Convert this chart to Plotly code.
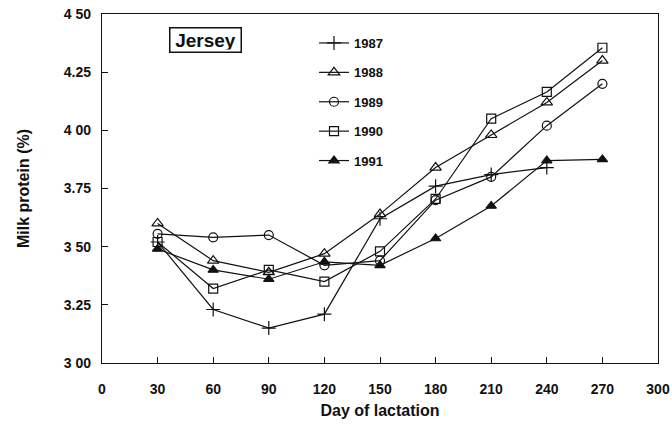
import plotly.graph_objects as go

days = [30, 60, 90, 120, 150, 180, 210, 240, 270]
p1987 = [3.52, 3.23, 3.15, 3.21, 3.62, 3.76, 3.81, 3.84]
p1988 = [3.60, 3.44, 3.39, 3.47, 3.64, 3.84, 3.98, 4.12, 4.30]
p1989 = [3.555, 3.54, 3.55, 3.42, 3.44, 3.70, 3.80, 4.02, 4.20]
p1990 = [3.52, 3.32, 3.40, 3.35, 3.48, 3.705, 4.05, 4.165, 4.355]
p1991 = [3.49, 3.40, 3.36, 3.435, 3.42, 3.535, 3.675, 3.87, 3.875]

x_ticks = [0, 30, 60, 90, 120, 150, 180, 210, 240, 270, 300]
y_ticks = [3.00, 3.25, 3.50, 3.75, 4.00, 4.25, 4.50]
y_ticktext = ["3 00", "3.25", "3 50", "3.75", "4 00", "4.25", "4 50"]

FONT = "Liberation Sans, Arial, sans-serif"
INK = "#111111"

series = [
    ("1987", p1987, "cross-thin-open", 10),
    ("1988", p1988, "triangle-up-open", 10),
    ("1989", p1989, "circle-open", 9),
    ("1990", p1990, "square-open", 9),
    ("1991", p1991, "triangle-up", 9),
]

W, H = 672, 428
L, R, T, B = 102, 14, 14, 65
PW, PH = W - L - R, H - T - B

fig = go.Figure()
for name, vals, sym, size in series:
    fig.add_trace(go.Scatter(
        x=days[:len(vals)], y=vals, name=name, mode="lines+markers",
        line=dict(color=INK, width=1.2),
        marker=dict(symbol=sym, size=size, color=INK, line=dict(color=INK, width=1.2)),
        legendgroup=name,
    ))

fig.add_annotation(
    x=(205 - 102) / PW, y=(363 - 40) / PH, xref="paper", yref="paper",
    xanchor="center", yanchor="middle",
    text="<b>Jersey</b>", showarrow=False, width=66, height=19,
    font=dict(family=FONT, size=19, color=INK), bordercolor=INK, borderwidth=1.5,
    borderpad=2, bgcolor="white",
)

fig.update_layout(
    width=W, height=H,
    margin=dict(l=L, r=R, t=T, b=B, autoexpand=False),
    paper_bgcolor="white", plot_bgcolor="white",
    font=dict(family=FONT, color=INK, size=14, weight="bold"),
    showlegend=True,
    legend=dict(
        x=(314 - 102) / PW, y=(363 - 28) / PH, xanchor="left", yanchor="top",
        bgcolor="rgba(0,0,0,0)", font=dict(family=FONT, size=13, weight="bold"),
        tracegroupgap=9.5, itemwidth=30,
    ),
    xaxis=dict(
        range=[0, 300], tickvals=x_ticks, ticks="inside", ticklen=6, tickcolor=INK,
        showline=True, linecolor=INK, linewidth=1.3, mirror=True, showgrid=False,
        zeroline=False, tickfont=dict(size=14, weight="bold"), ticklabelstandoff=13,
        automargin=False, ticklabeloverflow="allow",
        title=dict(text="Day of lactation", font=dict(size=16, weight="bold"), standoff=8),
    ),
    yaxis=dict(
        range=[3.0, 4.5], tickvals=y_ticks, ticktext=y_ticktext, ticks="inside", ticklen=6,
        tickcolor=INK, showline=True, linecolor=INK, linewidth=1.3, mirror=True,
        showgrid=False, zeroline=False, tickfont=dict(size=14, weight="bold"),
        ticklabelstandoff=7, automargin=False, ticklabeloverflow="allow",
        title=dict(text="Milk protein (%)", font=dict(size=16, weight="bold"), standoff=30),
    ),
)

fig.write_html(
    "out.html",
    config={"displayModeBar": False},
    post_script="document.body.style.margin='0px';document.body.style.overflow='hidden';",
)
